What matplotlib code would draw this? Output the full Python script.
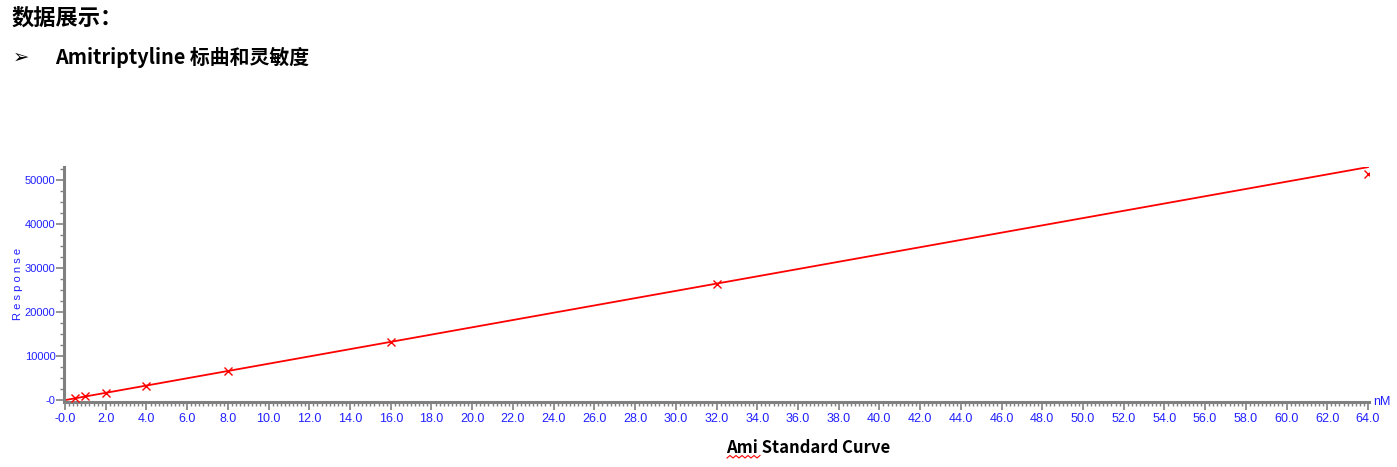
import matplotlib.pyplot as plt
import numpy as np
from matplotlib.ticker import MultipleLocator, FixedLocator

plt.rcParams['font.family'] = ['Noto Sans CJK SC', 'DejaVu Sans']

# 标准曲线数据 (nM, response)
conc = [0.5, 1.0, 2.0, 4.0, 8.0, 16.0, 32.0, 64.0]
response = [420, 830, 1650, 3300, 6650, 13300, 26500, 51400]

# 拟合直线参数
fit_slope = 828.0
fit_intercept = -20.0

x_ticks = np.arange(0, 64.1, 2.0)
x_labels = ['-0.0'] + ['%.1f' % v for v in x_ticks[1:]]
y_ticks = [0, 10000, 20000, 30000, 40000, 50000]
y_labels = ['-0', '10000', '20000', '30000', '40000', '50000']

blue = '#2020ff'
axis_gray = '#808080'
tick_font = ['Liberation Sans Narrow', 'Liberation Sans', 'DejaVu Sans']

fig = plt.figure(figsize=(13.97, 4.67), dpi=100)

# 页面标题
fig.text(12 / 1397, 1 - 18 / 467, '数据展示：', fontsize=16, fontweight='bold',
         ha='left', va='center')
fig.text(13 / 1397, 1 - 57 / 467, '➢', fontsize=14, ha='left', va='center',
         family=['DejaVu Sans'], fontweight='bold')
fig.text(55 / 1397, 1 - 57 / 467, 'Amitriptyline 标曲和灵敏度', fontsize=14.3,
         fontweight='bold', ha='left', va='center')

ax = fig.add_axes([64 / 1397, 1 - 402 / 467, (1369 - 64) / 1397, (402 - 167) / 467])

fx = np.array([0.0, 64.0])
ax.plot(fx, fit_slope * fx + fit_intercept, color='red', linewidth=1.3, zorder=2)
ax.plot(conc, response, linestyle='none', marker='x', markersize=6,
        markeredgewidth=1.0, color='red', zorder=3)

ax.set_xlim(-0.05, 64.05)
ax.set_ylim(-450, 53000)

for s in ['top', 'right']:
    ax.spines[s].set_visible(False)
for s in ['left', 'bottom']:
    ax.spines[s].set_color(axis_gray)
    ax.spines[s].set_linewidth(2.2)

ax.xaxis.set_major_locator(FixedLocator(x_ticks))
ax.xaxis.set_minor_locator(MultipleLocator(0.2))
ax.set_xticklabels(x_labels)
ax.yaxis.set_major_locator(FixedLocator(y_ticks))
ax.yaxis.set_minor_locator(MultipleLocator(2500))
ax.set_yticklabels(y_labels)

ax.tick_params(axis='both', which='major', length=6, width=1.2, color=axis_gray,
               labelcolor=blue, labelsize=9, pad=2)
ax.tick_params(axis='y', which='major', labelsize=8, pad=0)
ax.tick_params(axis='both', which='minor', length=3, width=1.0, color=axis_gray)
for lab in ax.get_xticklabels() + ax.get_yticklabels():
    lab.set_family(tick_font)

fig.text(18 / 1397, 1 - 284 / 467, 'R e s p o n s e', rotation=90, color=blue,
         fontsize=8, family=tick_font, ha='center', va='center')
ax.text(1.003, 0.0, 'nM', transform=ax.transAxes, color=blue, fontsize=9,
        family=tick_font, ha='left', va='center')

fig.text(808 / 1397, 1 - 448 / 467, 'Ami Standard Curve', fontsize=12,
         fontweight='bold', ha='center', va='center')
# 拼写检查波浪线
wx = np.linspace(727, 760, 12) / 1397
wy = (1 - 458 / 467) + np.where(np.arange(12) % 2 == 0, 0.0, 2.5 / 467)
fig.add_artist(plt.Line2D(wx, wy, color='red', linewidth=0.8))

fig.savefig('out.png', dpi=100)
